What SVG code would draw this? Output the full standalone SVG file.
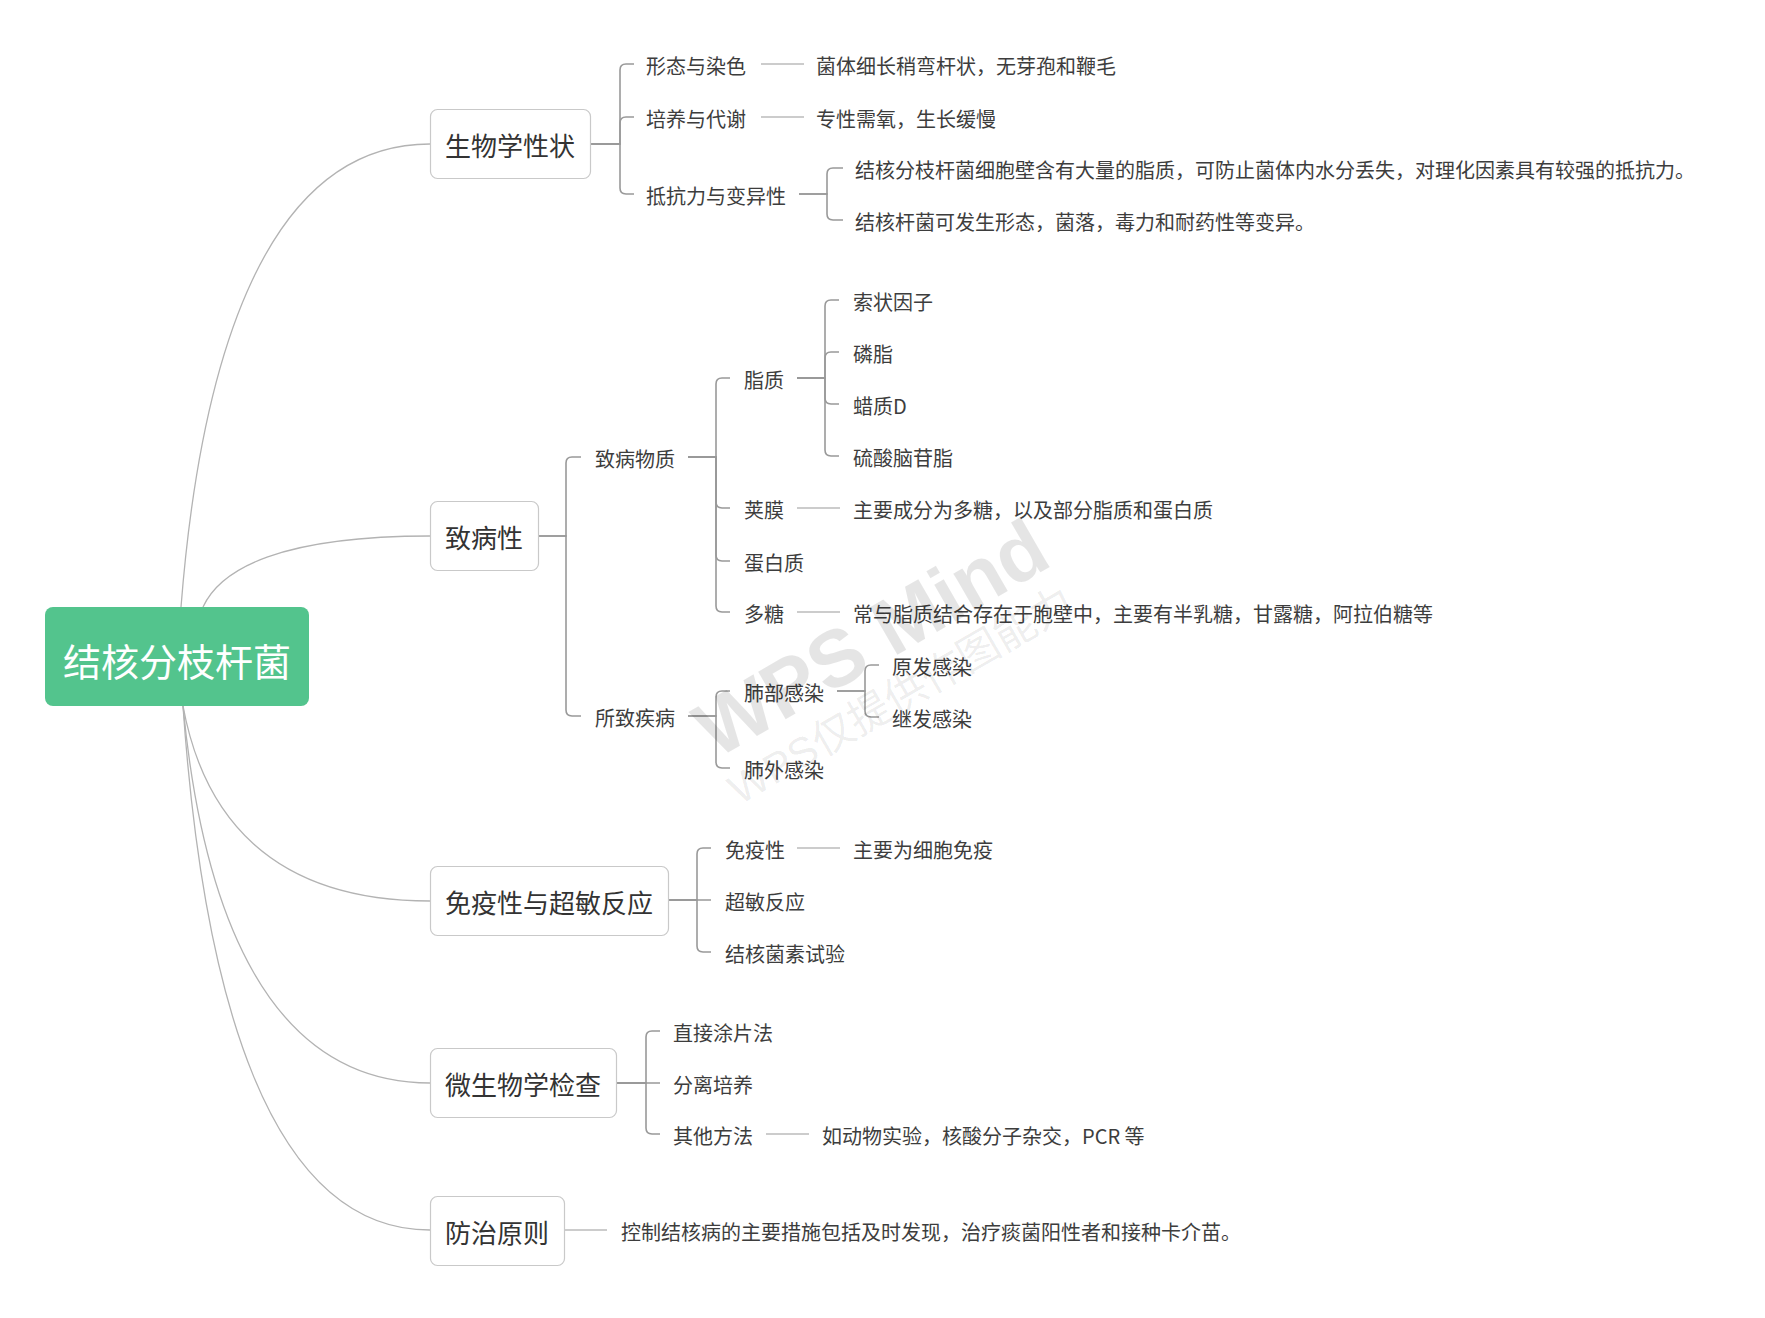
<svg xmlns="http://www.w3.org/2000/svg" width="1765" height="1318" viewBox="0 0 1765 1318">
<style>
  .curve { fill: none; stroke: #b3b3b3; stroke-width: 1.3; }
  .br { fill: none; stroke: #999999; stroke-width: 1.6; }
  .dash { fill: none; stroke: #9a9a9a; stroke-width: 1.2; }
  .box { fill: #ffffff; stroke: #c9c9c9; stroke-width: 1.2; }
  .t1 { font-family: "Noto Sans CJK SC", "Noto Sans", sans-serif; font-size: 26px; fill: #333333; text-anchor: middle; }
  .t2 { font-family: "Noto Sans CJK SC", "Noto Sans", sans-serif; font-size: 20px; fill: #3d3d3d; }
  .root { font-family: "Noto Sans CJK SC", "Noto Sans", sans-serif; font-size: 38px; fill: #ffffff; text-anchor: middle; }
  .wm1 { font-family: "Liberation Sans", "Noto Sans CJK SC", sans-serif; font-size: 80px; font-weight: bold; fill: #000000; fill-opacity: 0.1; text-anchor: middle; }
  .wm2 { font-family: "Liberation Sans", "Noto Sans CJK SC", sans-serif; font-size: 42px; fill: #000000; fill-opacity: 0.08; text-anchor: middle; }
</style>
<rect width="1765" height="1318" fill="#ffffff"/>

<g id="connectors">
  <!-- root curves -->
  <path class="curve" d="M181 607 C201 353 268 144 430 144"/>
  <path class="curve" d="M203 607 C221 568 282 536 430 536"/>
  <path class="curve" d="M183 706 C203 814 269 901 430 901"/>
  <path class="curve" d="M183 706 C203 914 269 1083 430 1083"/>
  <path class="curve" d="M183 706 C203 995 269 1230 430 1230"/>

  <!-- 生物学性状 -->
  <path class="br" d="M590 144 H620 V70 Q620 64 626 64 H634"/>
  <path class="br" d="M590 144 H620 V123 Q620 117 626 117 H634"/>
  <path class="br" d="M590 144 H620 V188 Q620 194 626 194 H634"/>
  <path class="dash" d="M761 64 H804"/>
  <path class="dash" d="M761 117 H804"/>
  <path class="br" d="M799 194 H827 V174 Q827 168 833 168 H843"/>
  <path class="br" d="M799 194 H827 V214 Q827 220 833 220 H843"/>

  <!-- 致病性 -->
  <path class="br" d="M538 536 H566 V463 Q566 457 572 457 H581"/>
  <path class="br" d="M538 536 H566 V710 Q566 716 572 716 H581"/>
  <path class="br" d="M688 457 H716 V384 Q716 378 722 378 H730"/>
  <path class="br" d="M688 457 H716 V502 Q716 508 722 508 H730"/>
  <path class="br" d="M688 457 H716 V555 Q716 561 722 561 H730"/>
  <path class="br" d="M688 457 H716 V606 Q716 612 722 612 H730"/>
  <path class="br" d="M797 378 H825 V306 Q825 300 831 300 H839"/>
  <path class="br" d="M797 378 H825 V358 Q825 352 831 352 H839"/>
  <path class="br" d="M797 378 H825 V398 Q825 404 831 404 H839"/>
  <path class="br" d="M797 378 H825 V450 Q825 456 831 456 H839"/>
  <path class="dash" d="M797 508 H840"/>
  <path class="dash" d="M797 612 H840"/>
  <path class="br" d="M688 716 H716 V697 Q716 691 722 691 H730"/>
  <path class="br" d="M688 716 H716 V762 Q716 768 722 768 H730"/>
  <path class="br" d="M837 691 H865 V671 Q865 665 871 665 H879"/>
  <path class="br" d="M837 691 H865 V711 Q865 717 871 717 H879"/>

  <!-- 免疫性与超敏反应 -->
  <path class="br" d="M668 900 H697 V854 Q697 848 703 848 H711"/>
  <path class="br" d="M668 900 H711"/>
  <path class="br" d="M668 900 H697 V946 Q697 952 703 952 H711"/>
  <path class="dash" d="M797 848 H840"/>

  <!-- 微生物学检查 -->
  <path class="br" d="M616 1083 H646 V1037 Q646 1031 652 1031 H660"/>
  <path class="br" d="M616 1083 H660"/>
  <path class="br" d="M616 1083 H646 V1128 Q646 1134 652 1134 H660"/>
  <path class="dash" d="M766 1134 H809"/>

  <!-- 防治原则 -->
  <path class="dash" d="M564 1230 H607"/>
</g>

<g id="root">
  <rect x="45" y="607" width="264" height="99" rx="8" fill="#53C48D"/>
  <text class="root" x="177" y="676">结核分枝杆菌</text>
</g>

<g id="n-shengwu">
  <rect class="box" x="430.5" y="109.5" width="160" height="69" rx="7"/>
  <text class="t1" x="510" y="156">生物学性状</text>
</g>
<g id="n-xingtai"><text class="t2" x="646" y="74">形态与染色</text></g>
<g id="n-xingtai-d"><text class="t2" x="816" y="74">菌体细长稍弯杆状，无芽孢和鞭毛</text></g>
<g id="n-peiyang"><text class="t2" x="646" y="127">培养与代谢</text></g>
<g id="n-peiyang-d"><text class="t2" x="816" y="127">专性需氧，生长缓慢</text></g>
<g id="n-dikang"><text class="t2" x="646" y="204">抵抗力与变异性</text></g>
<g id="n-dikang-1"><text class="t2" x="855" y="178">结核分枝杆菌细胞壁含有大量的脂质，可防止菌体内水分丢失，对理化因素具有较强的抵抗力。</text></g>
<g id="n-dikang-2"><text class="t2" x="855" y="230">结核杆菌可发生形态，菌落，毒力和耐药性等变异。</text></g>

<g id="n-zhibing">
  <rect class="box" x="430.5" y="501.5" width="108" height="69" rx="7"/>
  <text class="t1" x="484" y="548">致病性</text>
</g>
<g id="n-zhibingwuzhi"><text class="t2" x="595" y="467">致病物质</text></g>
<g id="n-zhizhi"><text class="t2" x="744" y="388">脂质</text></g>
<g id="n-suozhuang"><text class="t2" x="853" y="310">索状因子</text></g>
<g id="n-linzhi"><text class="t2" x="853" y="362">磷脂</text></g>
<g id="n-lazhi"><text class="t2" x="853" y="414">蜡质D</text></g>
<g id="n-liusuan"><text class="t2" x="853" y="466">硫酸脑苷脂</text></g>
<g id="n-jiamo"><text class="t2" x="744" y="518">荚膜</text></g>
<g id="n-jiamo-d"><text class="t2" x="853" y="518">主要成分为多糖，以及部分脂质和蛋白质</text></g>
<g id="n-danbai"><text class="t2" x="744" y="571">蛋白质</text></g>
<g id="n-duotang"><text class="t2" x="744" y="622">多糖</text></g>
<g id="n-duotang-d"><text class="t2" x="853" y="622">常与脂质结合存在于胞壁中，主要有半乳糖，甘露糖，阿拉伯糖等</text></g>
<g id="n-suozhi"><text class="t2" x="595" y="726">所致疾病</text></g>
<g id="n-feibu"><text class="t2" x="744" y="701">肺部感染</text></g>
<g id="n-yuanfa"><text class="t2" x="892" y="675">原发感染</text></g>
<g id="n-jifa"><text class="t2" x="892" y="727">继发感染</text></g>
<g id="n-feiwai"><text class="t2" x="744" y="778">肺外感染</text></g>

<g id="n-mianyi">
  <rect class="box" x="430.5" y="866.5" width="238" height="69" rx="7"/>
  <text class="t1" x="549" y="913">免疫性与超敏反应</text>
</g>
<g id="n-mianyixing"><text class="t2" x="725" y="858">免疫性</text></g>
<g id="n-mianyixing-d"><text class="t2" x="853" y="858">主要为细胞免疫</text></g>
<g id="n-chaomin"><text class="t2" x="725" y="910">超敏反应</text></g>
<g id="n-jiehejunsu"><text class="t2" x="725" y="962">结核菌素试验</text></g>

<g id="n-weishengwu">
  <rect class="box" x="430.5" y="1048.5" width="186" height="69" rx="7"/>
  <text class="t1" x="523" y="1095">微生物学检查</text>
</g>
<g id="n-zhijie"><text class="t2" x="673" y="1041">直接涂片法</text></g>
<g id="n-fenli"><text class="t2" x="673" y="1093">分离培养</text></g>
<g id="n-qita"><text class="t2" x="673" y="1144">其他方法</text></g>
<g id="n-qita-d"><text class="t2" x="822" y="1144">如动物实验，核酸分子杂交，PCR 等</text></g>

<g id="n-fangzhi">
  <rect class="box" x="430.5" y="1196.5" width="134" height="69" rx="7"/>
  <text class="t1" x="497" y="1243">防治原则</text>
</g>
<g id="n-fangzhi-d"><text class="t2" x="621" y="1240">控制结核病的主要措施包括及时发现，治疗痰菌阳性者和接种卡介苗。</text></g>

<g id="watermark">
  <text class="wm1" transform="translate(885 662) rotate(-30)">WPS Mind</text>
  <text class="wm2" transform="translate(908 708) rotate(-30)">WPS仅提供作图能力</text>
</g>
</svg>
